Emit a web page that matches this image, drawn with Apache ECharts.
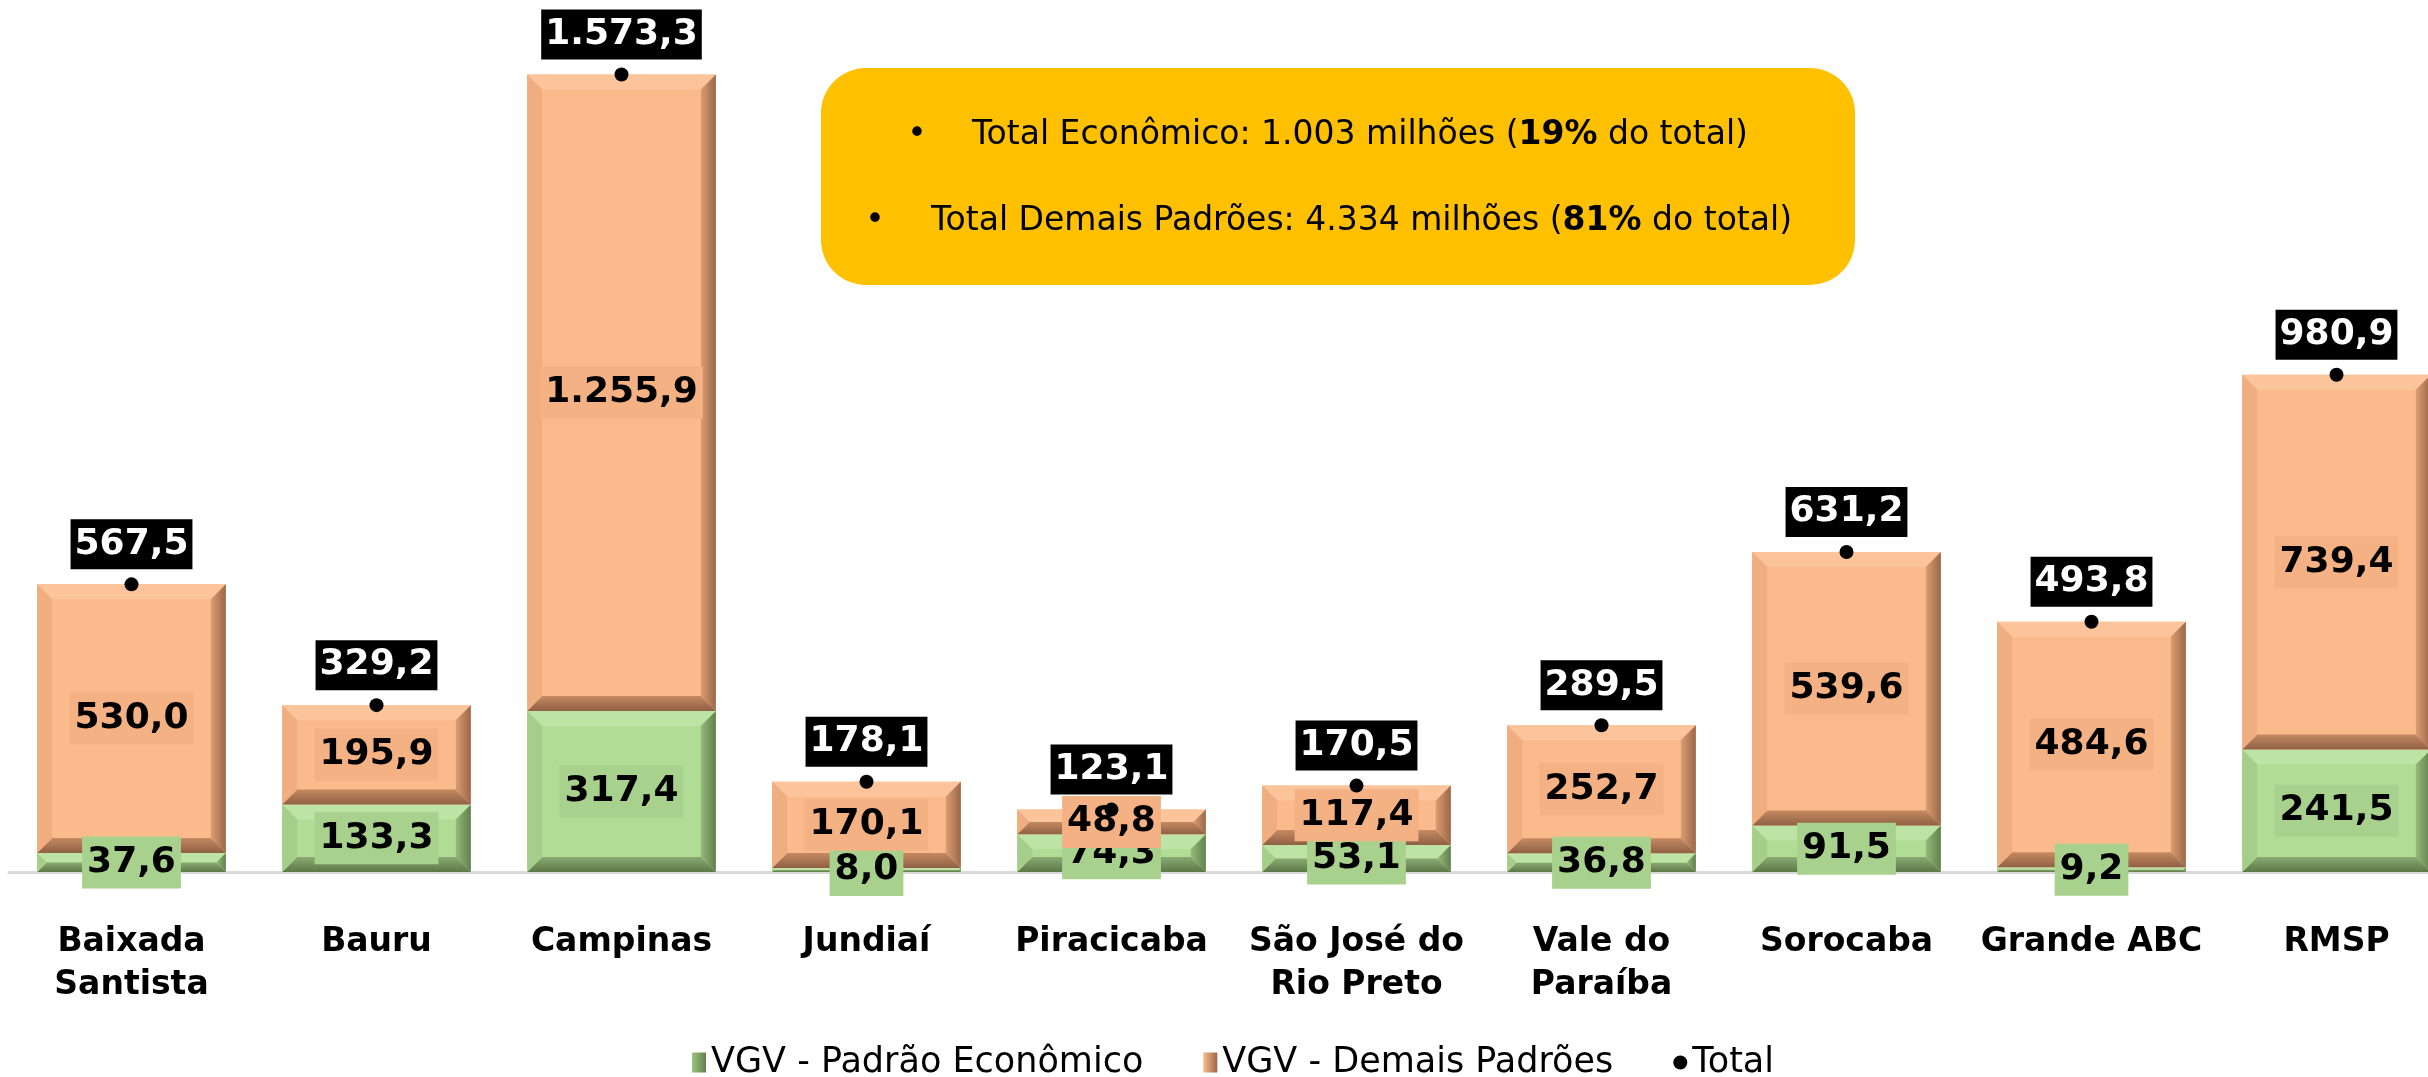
<!DOCTYPE html>
<html>
<head>
<meta charset="utf-8">
<title>VGV por região</title>
<script src="https://cdn.jsdelivr.net/npm/echarts@6.0.0/dist/echarts.min.js"></script>
<style>
    html, body { margin: 0; padding: 0; background: #fff; }
    #main { width: 2428px; height: 1077px; }
</style>
</head>
<body>
<div id="main"></div>
<script>
// dados (R$ milhões)
var regioes = ['Baixada\nSantista', 'Bauru', 'Campinas', 'Jundiaí', 'Piracicaba',
    'São José do\nRio Preto', 'Vale do\nParaíba', 'Sorocaba', 'Grande ABC', 'RMSP'];
var economico = [37.6, 133.3, 317.4, 8.0, 74.3, 53.1, 36.8, 91.5, 9.2, 241.5];
var demais = [530.0, 195.9, 1255.9, 170.1, 48.8, 117.4, 252.7, 539.6, 484.6, 739.4];
var totais = [567.5, 329.2, 1573.3, 178.1, 123.1, 170.5, 289.5, 631.2, 493.8, 980.9];
var nomes = ['VGV - Padrão Econômico', 'VGV - Demais Padrões', 'Total'];

var FONT = "'DejaVu Sans', Verdana, sans-serif";
var BAR_RATIO = 0.77;

// cores do efeito "bisel" de cada série
var corVerde = { face: '#b1dc95', top: '#bde4a4', left: '#a4ce89', right: ['#94ba7b', '#62804d'], bottom: ['#8aab72', '#5d7848'], label: '#a9d18e' };
var corLaranja = { face: '#fbba8b', top: '#fcc49b', left: '#efad80', right: ['#dc9c70', '#9a684a'], bottom: ['#c58a61', '#8f6044'], label: '#f4b183' };

// 1234.5 -> "1.234,5"
function fmt(v) {
    var p = v.toFixed(1).split('.');
    var inteiro = p[0].replace(/\B(?=(\d{3})+(?!\d))/g, '.');
    return inteiro + ',' + p[1];
}

// [indice, base, topo] para a série custom
var dadosVerde = [], dadosLaranja = [];
for (var i = 0; i < regioes.length; i++) {
    dadosVerde.push([i, 0, economico[i]]);
    dadosLaranja.push([i, economico[i], economico[i] + demais[i]]);
}

function bevel(cor) {
    return function (params, api) {
        var lo = api.coord([api.value(0), api.value(1)]);
        var hi = api.coord([api.value(0), api.value(2)]);
        var w = api.size([1, 0])[0] * BAR_RATIO;
        var x0 = lo[0] - w / 2, x1 = lo[0] + w / 2;
        var yb = lo[1], yt = hi[1];
        var h = yb - yt;
        var b = Math.min(15, h / 2, w / 2);
        return {
            type: 'group',
            children: [
                { type: 'rect', shape: { x: x0, y: yt, width: w, height: h }, style: { fill: cor.face } },
                { type: 'polygon', shape: { points: [[x0, yt], [x1, yt], [x1 - b, yt + b], [x0 + b, yt + b]] }, style: { fill: cor.top } },
                { type: 'polygon', shape: { points: [[x0, yb], [x1, yb], [x1 - b, yb - b], [x0 + b, yb - b]] },
                    style: { fill: new echarts.graphic.LinearGradient(0, 0, 0, 1, [{ offset: 0, color: cor.bottom[0] }, { offset: 1, color: cor.bottom[1] }]) } },
                { type: 'polygon', shape: { points: [[x0, yt], [x0 + b, yt + b], [x0 + b, yb - b], [x0, yb]] }, style: { fill: cor.left } },
                { type: 'polygon', shape: { points: [[x1, yt], [x1 - b, yt + b], [x1 - b, yb - b], [x1, yb]] },
                    style: { fill: new echarts.graphic.LinearGradient(0, 0, 1, 0, [{ offset: 0, color: cor.right[0] }, { offset: 1, color: cor.right[1] }]) } }
            ]
        };
    };
}

function rotulo(bg) {
    return {
        show: true,
        position: 'inside',
        formatter: function (p) { return fmt(p.value); },
        fontFamily: FONT,
        fontSize: 36,
        fontWeight: 'bold',
        color: '#000',
        backgroundColor: bg,
        padding: [8, 5]
    };
}

var chart = echarts.init(document.getElementById('main'));

var option = {
    backgroundColor: '#ffffff',
    animation: false,
    grid: {
        left: 9,
        top: 61,
        width: 2450,
        height: 811,
        containLabel: false,
        outerBoundsMode: 'none'
    },
    legend: {
        top: 1040,
        left: 687,
        itemGap: 60,
        itemWidth: 14,
        itemHeight: 20,
        textStyle: {
            fontFamily: FONT,
            fontSize: 35,
            color: '#000'
        },
        data: [
            { name: nomes[0], icon: 'rect', itemStyle: { color: new echarts.graphic.LinearGradient(0, 0, 1, 0, [{ offset: 0, color: '#9cc581' }, { offset: 1, color: '#62804d' }]) } },
            { name: nomes[1], icon: 'rect', itemStyle: { color: new echarts.graphic.LinearGradient(0, 0, 1, 0, [{ offset: 0, color: '#fbba8b' }, { offset: 1, color: '#9a684a' }]) } },
            { name: nomes[2], icon: 'circle', itemStyle: { color: '#000' } }
        ]
    },
    xAxis: {
        type: 'category',
        data: regioes,
        axisLine: {
            show: true,
            lineStyle: { color: '#d9d9d9', width: 3 }
        },
        axisTick: { show: false },
        axisLabel: {
            interval: 0,
            margin: 49,
            fontFamily: FONT,
            fontSize: 33,
            fontWeight: 'bold',
            lineHeight: 43,
            color: '#000'
        }
    },
    yAxis: {
        type: 'value',
        min: 0,
        max: 1600,
        show: false,
        splitLine: { show: false }
    },
    series: [
        // desenho das barras com bisel
        {
            type: 'custom',
            renderItem: bevel(corVerde),
            data: dadosVerde,
            encode: { x: 0, y: [1, 2] },
            silent: true,
            z: 1
        },
        {
            type: 'custom',
            renderItem: bevel(corLaranja),
            data: dadosLaranja,
            encode: { x: 0, y: [1, 2] },
            silent: true,
            z: 1
        },
        // barras empilhadas (só rótulos, fundo transparente)
        {
            name: nomes[0],
            type: 'bar',
            stack: 'vgv',
            barCategoryGap: '23%',
            data: economico,
            z: 3,
            itemStyle: { color: 'rgba(0,0,0,0)' },
            label: rotulo(corVerde.label)
        },
        {
            name: nomes[1],
            type: 'bar',
            stack: 'vgv',
            barCategoryGap: '23%',
            data: demais,
            z: 3,
            itemStyle: { color: 'rgba(0,0,0,0)' },
            label: rotulo(corLaranja.label)
        },
        {
            name: nomes[2],
            type: 'scatter',
            data: totais,
            symbol: 'circle',
            symbolSize: 14,
            z: 5,
            itemStyle: { color: '#000', opacity: 1 },
            label: {
                show: true,
                position: 'top',
                distance: 8,
                formatter: function (p) { return fmt(p.value); },
                fontFamily: FONT,
                fontSize: 36,
                fontWeight: 'bold',
                color: '#fff',
                opacity: 1,
                backgroundColor: '#000',
                padding: [7, 4]
            }
        }
    ],
    // caixa amarela com os totais
    graphic: [
        {
            type: 'rect',
            shape: { x: 821, y: 68, width: 1034, height: 217, r: 45 },
            style: { fill: '#ffc000' },
            z: 10
        },
        {
            type: 'text',
            x: 917, y: 135,
            z: 11,
            style: { text: '•', font: '33px ' + FONT, fill: '#000', align: 'center', verticalAlign: 'middle' }
        },
        {
            type: 'text',
            x: 972, y: 135,
            z: 11,
            style: {
                text: 'Total Econômico: 1.003 milhões ({b|19%} do total)',
                font: '33px ' + FONT,
                fill: '#000',
                align: 'left',
                verticalAlign: 'middle',
                rich: { b: { fontFamily: FONT, fontSize: 33, fontWeight: 'bold', fill: '#000' } }
            }
        },
        {
            type: 'text',
            x: 875, y: 221,
            z: 11,
            style: { text: '•', font: '33px ' + FONT, fill: '#000', align: 'center', verticalAlign: 'middle' }
        },
        {
            type: 'text',
            x: 931, y: 221,
            z: 11,
            style: {
                text: 'Total Demais Padrões: 4.334 milhões ({b|81%} do total)',
                font: '33px ' + FONT,
                fill: '#000',
                align: 'left',
                verticalAlign: 'middle',
                rich: { b: { fontFamily: FONT, fontSize: 33, fontWeight: 'bold', fill: '#000' } }
            }
        }
    ]
};

chart.setOption(option);
</script>
</body>
</html>
